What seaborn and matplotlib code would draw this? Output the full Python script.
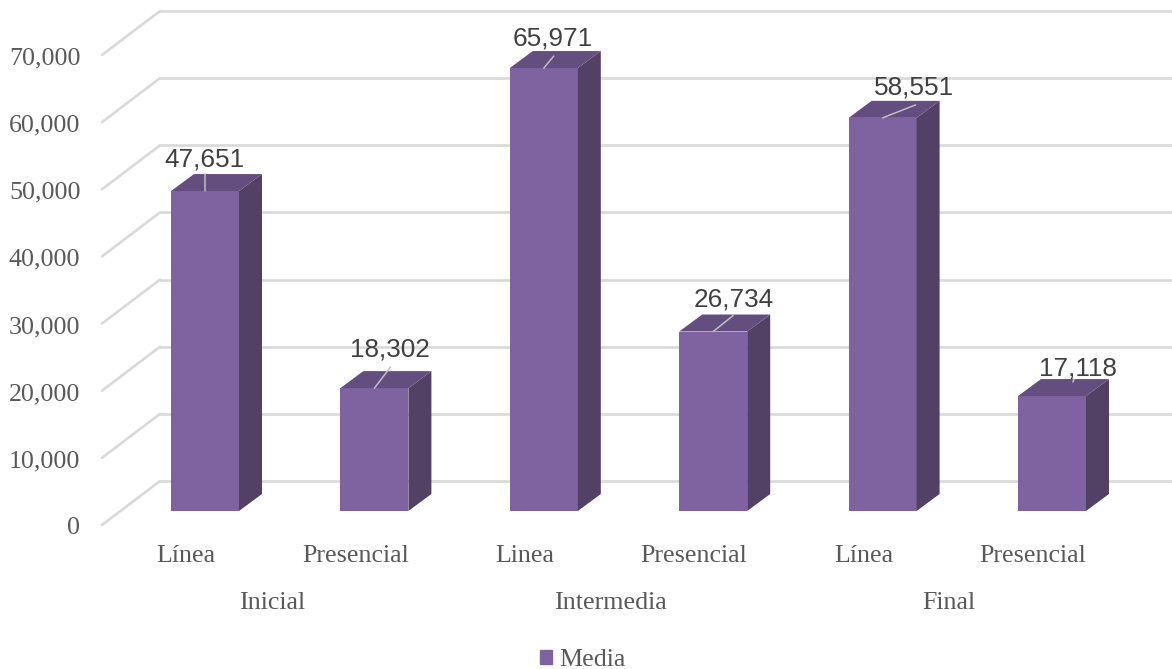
import matplotlib
matplotlib.use('Agg')
import matplotlib.pyplot as plt
from matplotlib.patches import Patch
from matplotlib.transforms import ScaledTranslation
import pandas as pd
import seaborn as sns

# datos de la grafica
etapas = ['Inicial', 'Intermedia', 'Final']
modalidad = ['Línea', 'Presencial', 'Linea', 'Presencial', 'Línea', 'Presencial']
etiquetas = ['Inicial Línea', 'Inicial Presencial', 'Intermedia Linea',
             'Intermedia Presencial', 'Final Línea', 'Final Presencial']
media = [47651, 18302, 65971, 26734, 58551, 17118]
ticks_y = [0, 10000, 20000, 30000, 40000, 50000, 60000, 70000]

df = pd.DataFrame({'grupo': etiquetas, 'media': media})

# colores
FRENTE = '#7f63a1'
LADO = '#524065'
TAPA = '#644e80'
GRID = '#d9d9d9'
TEXTO = '#595959'

sns.set_theme(style='white')
plt.rcParams['font.family'] = ['Liberation Serif', 'DejaVu Serif']

W, H = 1172, 669
fig = plt.figure(figsize=(W / 100, H / 100), dpi=100)

# el eje va de x=102 a x=1172 px, y=0 en 511 px y 70000 en 41 px
ax = fig.add_axes([102 / W, 1 - 511 / H, (W - 102) / W, 470 / H])
PX_X = 169.4
PX_Y = 470 / 70000


def dx(px):
    return px / PX_X


def dy(px):
    return px / PX_Y


sns.barplot(data=df, x='grupo', y='media', color=FRENTE, saturation=1,
            width=68 / PX_X, ax=ax, zorder=3, linewidth=0)
ax.set_xlim((102 - 205) / PX_X, (W - 205) / PX_X)
ax.set_ylim(0, 70000)
ax.set_xlabel('')
ax.set_ylabel('')
sns.despine(ax=ax, left=True, bottom=True, top=True, right=True)

# lineas de la pared y del piso
x_izq = ax.get_xlim()[0]
x_der = ax.get_xlim()[1]
for v in ticks_y:
    ax.plot([x_izq, x_izq + dx(58)], [v - dy(14), v + dy(30)], color=GRID, lw=1.9,
            clip_on=False, zorder=1, solid_capstyle='round')
    ax.plot([x_izq + dx(58), x_der], [v + dy(30), v + dy(30)], color=GRID, lw=1.9,
            clip_on=False, zorder=1)

# caras de las barras en 3D
for barra in ax.patches:
    x0 = barra.get_x()
    x1 = x0 + barra.get_width()
    h = barra.get_height()
    ax.fill([x1, x1 + dx(23), x1 + dx(23), x1], [0, dy(17), h + dy(17), h],
            color=LADO, lw=0, clip_on=False, zorder=3)
    ax.fill([x0, x0 + dx(23), x1 + dx(23), x1], [h, h + dy(17), h + dy(17), h],
            color=TAPA, lw=0, clip_on=False, zorder=3)

# etiquetas de datos con su linea guia (desplazamientos en px)
pos_etiqueta = [(-1, 32), (16, 39), (9, 30), (20, 32), (31, 30), (26, 28)]
pos_guia = [((0, 0), (0, 17)), ((0, 0), (16, 21)), ((0, 0), (10, 12)),
            ((0, 0), (20, 16)), ((0, 0), (33, 13)), ((21, 14), (22, 17))]
for i, v in enumerate(media):
    ini, fin = pos_guia[i]
    ax.plot([i + dx(ini[0]), i + dx(fin[0])], [v + dy(ini[1]), v + dy(fin[1])],
            color='#bfbfbf', lw=1.1, clip_on=False, zorder=4)
    ax.annotate(f'{v:,}', xy=(i, v), xytext=pos_etiqueta[i], textcoords='offset pixels',
                ha='center', va='center', fontsize=18.8, color='#404040',
                family=['Liberation Sans'], zorder=5, annotation_clip=False)

# ticks
ax.set_yticks(ticks_y)
ax.set_yticklabels([f'{v:,}' for v in ticks_y])
ax.set_xticks(range(len(modalidad)))
ax.set_xticklabels(modalidad)
ax.tick_params(axis='y', length=0, pad=15.5, labelsize=18.7, labelcolor=TEXTO)
ax.tick_params(axis='x', length=0, pad=24.5, labelsize=18.7, labelcolor=TEXTO)
baja_y = ScaledTranslation(0, -15 / 100, fig.dpi_scale_trans)
izq_x = ScaledTranslation(-19 / 100, 0, fig.dpi_scale_trans)
for t in ax.get_yticklabels():
    t.set_transform(t.get_transform() + baja_y)
for t in ax.get_xticklabels():
    t.set_transform(t.get_transform() + izq_x)

# etapas debajo de las modalidades
for i, etapa in enumerate(etapas):
    ax.annotate(etapa, xy=(2 * i + 0.5, 0), xytext=(-18, -92), textcoords='offset pixels',
                ha='center', va='center', fontsize=18.7, color=TEXTO, annotation_clip=False)

fig.legend(handles=[Patch(color=FRENTE, label='Media')], loc='center',
           bbox_to_anchor=(583 / W, 1 - 660 / H), frameon=False, fontsize=18.7,
           labelcolor=TEXTO, handlelength=0.45, handleheight=0.45, handletextpad=0.3,
           borderpad=0, borderaxespad=0)

fig.savefig('out.png', dpi=100, facecolor='white')
